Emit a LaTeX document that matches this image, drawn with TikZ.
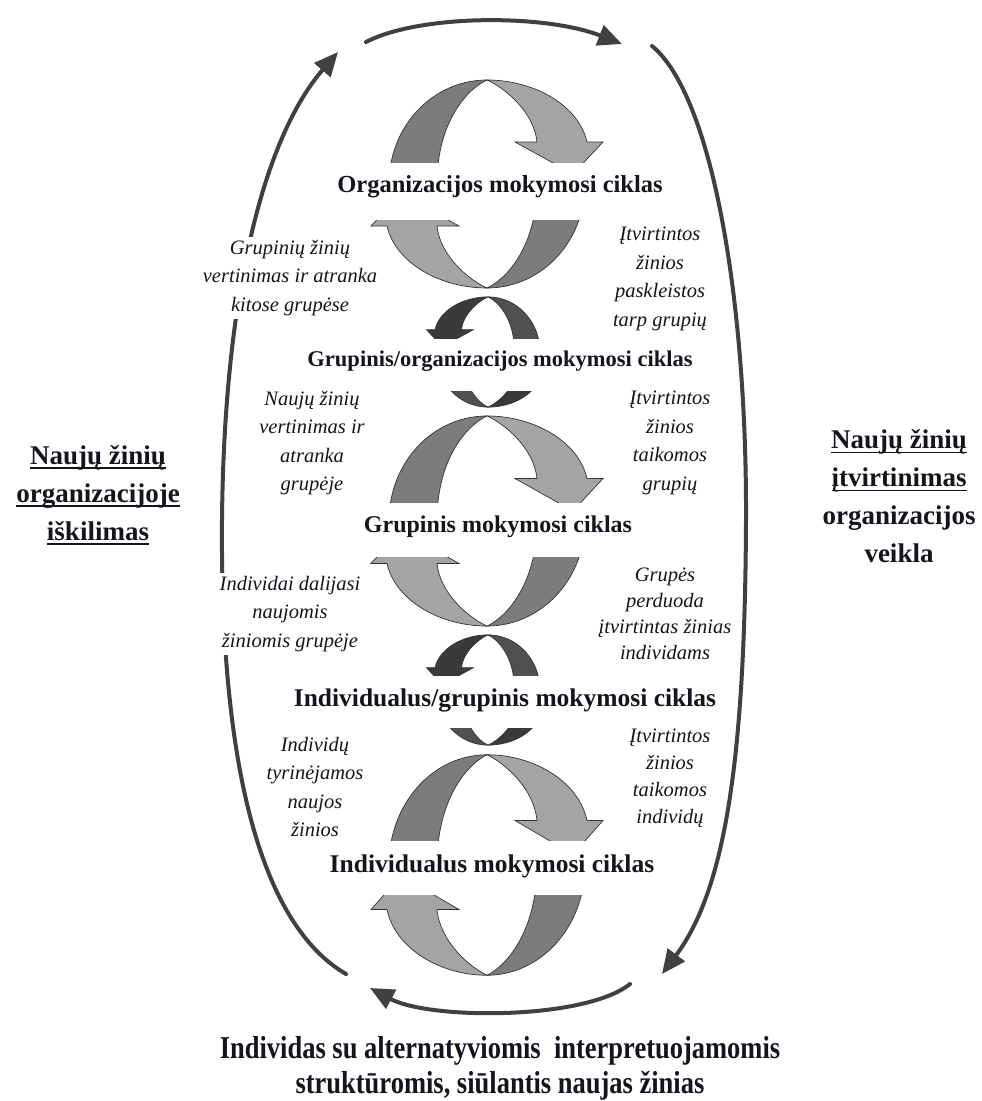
\documentclass[tikz,border=0pt]{standalone}
\usepackage{fontspec}
\setmainfont{Liberation Serif}
\usetikzlibrary{arrows.meta}

% underline drawn as a rule under the word box
\newcommand\ulined[1]{\setbox0\hbox{#1}\rlap{\rule[-5pt]{\wd0}{1.8pt}}\box0}
% slightly tall lettering for the source caption
\newcommand\tallline[1]{\scalebox{1}[1.2]{#1}}

\definecolor{bandA}{HTML}{7C7C7C}
\definecolor{bandB}{HTML}{A4A4A4}
\definecolor{darkA}{HTML}{3A3A3A}
\definecolor{darkB}{HTML}{505050}
\definecolor{loopcol}{HTML}{404040}
\definecolor{inkcol}{HTML}{14141E}

\tikzset{
  loopline/.style={line width=4pt, draw=loopcol, line cap=round,
    -{Triangle[length=24pt,width=21pt]}},
  cyctitle/.style={font=\fontsize{#1}{26}\selectfont\bfseries, inner sep=0pt, text=inkcol},
  cyctitle/.default=23,
  note/.style={font=\fontsize{20.5}{28.5}\selectfont\itshape, align=center,
    inner sep=3pt, fill=white, text=inkcol},
  sidetext/.style={font=\fontsize{27}{38}\selectfont\bfseries, align=center,
    inner sep=0pt, text=inkcol},
  bottomtext/.style={font=\fontsize{26.5}{35}\selectfont\bfseries, align=center,
    inner sep=0pt, text=inkcol},
  bandedge/.style={draw=black!80, line width=0.7pt},
}

% One half of a learning cycle: a ribbon arrow going over the top,
% drawn around (0,0) with its peak at (0,-104) and its head on the right.
\newcommand\halfcycle[2]{%
  \filldraw[bandedge, fill=#1]
    (-98,40) -- (-98,0) .. controls (-98,-58) and (-54,-104) .. (0,-104)
    .. controls (-18,-96) and (-50,-64) .. (-50,0) -- (-50,40) -- cycle;
  \filldraw[bandedge, fill=#2]
    (0,-104) .. controls (48,-104) and (92,-78) .. (100,-42)
    -- (116,-42) -- (86,-10) -- (28,-42) -- (50,-42)
    .. controls (47,-72) and (18,-96) .. (0,-104) -- cycle;
}

\begin{document}
\begin{tikzpicture}[x=1pt, y=-1pt]
\useasboundingbox (0,0) rectangle (982,1101);
\fill[white] (0,0) rectangle (982,1101);

% ---------- outer loop ----------
\coordinate (lA) at (346,974);
\coordinate (lB) at (338,52);
\coordinate (tA) at (366,42);
\coordinate (tB) at (622,44);
\coordinate (rA) at (652,46);
\coordinate (rB) at (662,974);
\coordinate (bA) at (630,984);
\coordinate (bB) at (370,988);

\draw[loopline] (lA) .. controls (262,925) and (220,770) .. (222,520)
  .. controls (224,300) and (262,140) .. (lB);
\draw[loopline] (tA) .. controls (420,14) and (545,14) .. (tB);
\draw[loopline] (rA) .. controls (712,95) and (747,300) .. (746,520)
  .. controls (745,760) and (725,890) .. (rB);
\draw[loopline] (bA) .. controls (585,1020) and (430,1020) .. (bB);

% ---------- organisation cycle ----------
\begin{scope}
  \clip (300,0) rectangle (700,162);
  \begin{scope}[shift={(487,184)}] \halfcycle{bandA}{bandB} \end{scope}
\end{scope}
\begin{scope}
  \clip (300,220) rectangle (700,300);
  \begin{scope}[shift={(487,184)}, rotate=180] \halfcycle{bandA}{bandB} \end{scope}
\end{scope}

% ---------- group / organisation cycle ----------
\begin{scope}
  \clip (400,290) rectangle (600,338);
  \begin{scope}[shift={(488,352)}, xscale=-0.53, yscale=0.53] \halfcycle{darkB}{darkA} \end{scope}
\end{scope}
\begin{scope}
  \clip (400,391) rectangle (600,412);
  \begin{scope}[shift={(488,352)}, xscale=0.53, yscale=-0.53] \halfcycle{darkB}{darkA} \end{scope}
\end{scope}

% ---------- group cycle ----------
\begin{scope}
  \clip (300,405) rectangle (700,502);
  \begin{scope}[shift={(487,521)}, yscale=1.01] \halfcycle{bandA}{bandB} \end{scope}
\end{scope}
\begin{scope}
  \clip (300,557) rectangle (700,635);
  \begin{scope}[shift={(487,521)}, rotate=180, yscale=1.01] \halfcycle{bandA}{bandB} \end{scope}
\end{scope}

% ---------- individual / group cycle ----------
\begin{scope}
  \clip (400,630) rectangle (600,675);
  \begin{scope}[shift={(488,690)}, xscale=-0.53, yscale=0.53] \halfcycle{darkB}{darkA} \end{scope}
\end{scope}
\begin{scope}
  \clip (400,728) rectangle (600,750);
  \begin{scope}[shift={(488,690)}, xscale=0.53, yscale=-0.53] \halfcycle{darkB}{darkA} \end{scope}
\end{scope}

% ---------- individual cycle ----------
\begin{scope}
  \clip (300,745) rectangle (700,840);
  \begin{scope}[shift={(487,865)}, yscale=1.06] \halfcycle{bandA}{bandB} \end{scope}
\end{scope}
\begin{scope}
  \clip (300,895) rectangle (700,985);
  \begin{scope}[shift={(487,865)}, rotate=180, yscale=1.06] \halfcycle{bandA}{bandB} \end{scope}
\end{scope}

% ---------- cycle titles ----------
\node[cyctitle=24.5] (org)   at (500,187) {Organizacijos mokymosi ciklas};
\node[cyctitle=22.5] (grorg) at (500,361) {Grupinis/organizacijos mokymosi ciklas};
\node[cyctitle=24]   (gr)    at (498,527) {Grupinis mokymosi ciklas};
\node[cyctitle=25.5] (indgr) at (505,700) {Individualus/grupinis mokymosi ciklas};
\node[cyctitle=25.5] (ind)   at (492,866) {Individualus mokymosi ciklas};

% ---------- side captions ----------
\node[sidetext] (emerge) at (98,495)
  {\ulined{Naujų žinių}\\ \ulined{organizacijoje}\\ \ulined{iškilimas}};
\node[sidetext] (embed) at (899,496)
  {\ulined{Naujų žinių}\\ \ulined{įtvirtinimas}\\ organizacijos\\ veikla};
\node[bottomtext] (source) at (500,1068)
  {\tallline{Individas su alternatyviomis\ \ interpretuojamomis}\\
   \tallline{struktūromis, siūlantis naujas žinias}};

% ---------- transitions between levels ----------
\node[note] (n1) at (290,278) {Grupinių žinių\\ vertinimas ir atranka\\ kitose grupėse};
\node[note] (n2) at (660,279) {Įtvirtintos\\ žinios\\ paskleistos\\ tarp grupių};
\node[note] (n3) at (312,443) {Naujų žinių\\ vertinimas ir\\ atranka\\ grupėje};
\node[note] (n4) at (670,443) {Įtvirtintos\\ žinios\\ taikomos\\ grupių};
\node[note] (n5) at (290,614) {Individai dalijasi\\ naujomis\\ žiniomis grupėje};
\node[note, font=\fontsize{20.5}{26}\selectfont\itshape] (n6) at (665,614)
  {Grupės\\ perduoda\\ įtvirtintas žinias\\ individams};
\node[note] (n7) at (315,787) {Individų\\ tyrinėjamos\\ naujos\\ žinios};
\node[note, font=\fontsize{20.5}{27}\selectfont\itshape] (n8) at (670,778)
  {Įtvirtintos\\ žinios\\ taikomos\\ individų};
\end{tikzpicture}
\end{document}
